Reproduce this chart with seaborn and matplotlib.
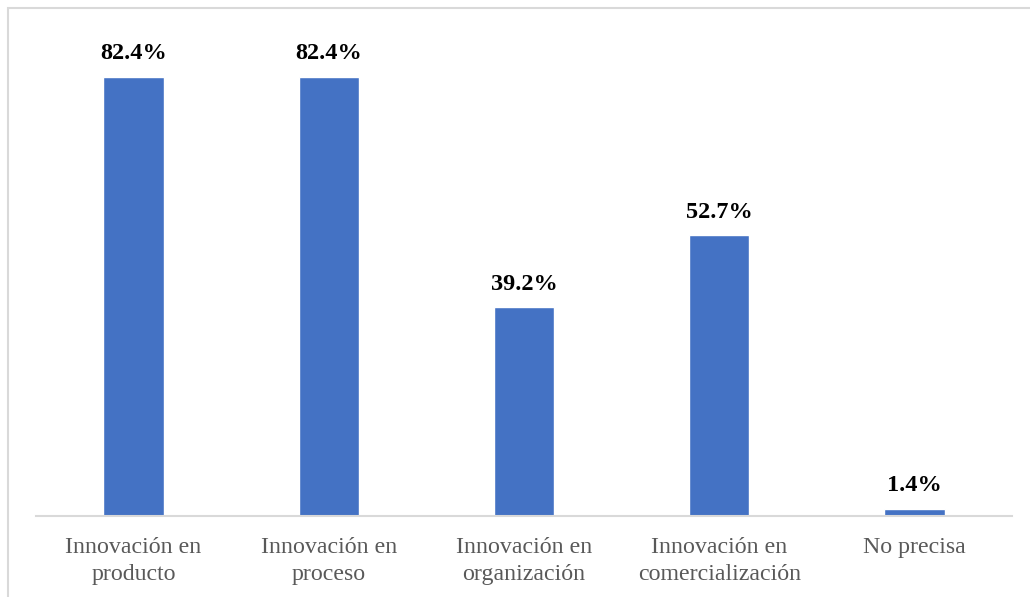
import matplotlib
matplotlib.use("Agg")
import matplotlib.pyplot as plt
import seaborn as sns
import pandas as pd
from matplotlib.patches import Rectangle

categories = ["Innovación en\nproducto", "Innovación en\nproceso", "Innovación en\norganización",
              "Innovación en\ncomercialización", "No precisa"]
values = [82.4, 82.4, 39.2, 52.7, 1.4]
value_labels = ["82.4%", "82.4%", "39.2%", "52.7%", "1.4%"]

sns.set_theme(style="white")
plt.rcParams["font.family"] = ["Liberation Serif", "DejaVu Serif"]

df = pd.DataFrame({"cat": categories, "val": values})

fig = plt.figure(figsize=(10.3, 5.97), dpi=100)
ax = fig.add_axes([36 / 1030, 1 - 516 / 597, (1012 - 36) / 1030, (516 - 36.5) / 597])

sns.barplot(data=df, x="cat", y="val", color="#4472C4", saturation=1, width=0.31, ax=ax)

ax.set_xlim(-0.5, 4.5)
ax.set_ylim(0, 90)
ax.set_xlabel("")
ax.set_ylabel("")
ax.set_yticks([])
for s in ["top", "right", "left"]:
    ax.spines[s].set_visible(False)
ax.spines["bottom"].set_color("#d9d9d9")
ax.spines["bottom"].set_linewidth(1.5)
ax.tick_params(axis="x", length=0, pad=15, labelsize=17.2, labelcolor="#595959")
for t in ax.get_xticklabels():
    t.set_linespacing(1.38)

for i, (v, lab) in enumerate(zip(values, value_labels)):
    ax.annotate(lab, (i, v), xytext=(0, 9), textcoords="offset points",
                ha="center", va="bottom", fontsize=17.5, fontweight="bold", color="black")

fig.patches.append(Rectangle((7.5 / 1030, -0.1), 1.2, 1 - 7.5 / 597 + 0.1, transform=fig.transFigure,
                             fill=False, edgecolor="#d9d9d9", linewidth=1.5, figure=fig))

fig.savefig("out.png", dpi=100)
